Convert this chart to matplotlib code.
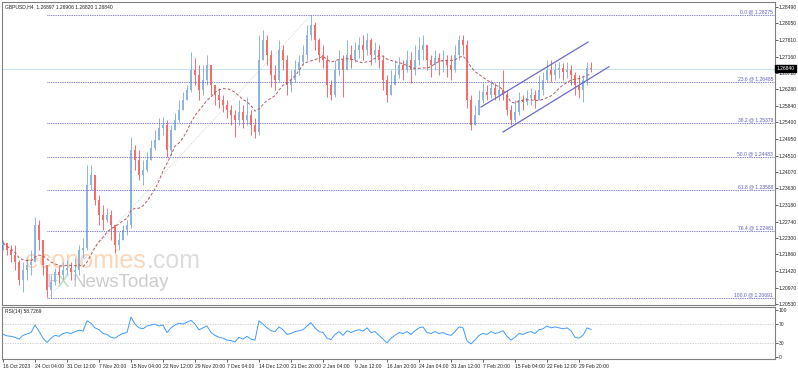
import numpy as np
import pandas as pd
import matplotlib
matplotlib.use('Agg')
import matplotlib.pyplot as plt

plt.rcParams['font.family'] = ['Liberation Sans', 'DejaVu Sans']

# ---------------- data (each drawn candle = 4 H4 bars) ----------------
bars_per_candle = 4
first_open = 1.2211
closes = [
    1.2217, 1.2198, 1.2185, 1.2166, 1.2118, 1.2144, 1.2158, 1.2166, 1.2265, 1.2225,
    1.2158, 1.2091, 1.2112, 1.2139, 1.2131, 1.2144, 1.2150, 1.2139, 1.2144, 1.2198,
    1.2203, 1.2372, 1.2399, 1.2332, 1.2292, 1.2278, 1.2292, 1.2265, 1.2211, 1.2225,
    1.2252, 1.2265, 1.2466, 1.2439, 1.2399, 1.2412, 1.2439, 1.2471, 1.2493, 1.2525,
    1.2533, 1.2466, 1.2520, 1.2546, 1.2573, 1.2600, 1.2627, 1.2680, 1.2667, 1.2627,
    1.2654, 1.2694, 1.2640, 1.2613, 1.2600, 1.2587, 1.2573, 1.2560, 1.2546, 1.2568,
    1.2546, 1.2560, 1.2533, 1.2514, 1.2707, 1.2761, 1.2721, 1.2667, 1.2654, 1.2734,
    1.2707, 1.2640, 1.2654, 1.2680, 1.2702, 1.2721, 1.2774, 1.2801, 1.2761, 1.2721,
    1.2707, 1.2640, 1.2613, 1.2680, 1.2707, 1.2680, 1.2721, 1.2707, 1.2734, 1.2747,
    1.2734, 1.2761, 1.2721, 1.2734, 1.2707, 1.2654, 1.2613, 1.2640, 1.2667, 1.2694,
    1.2680, 1.2707, 1.2680, 1.2707, 1.2734, 1.2747, 1.2707, 1.2694, 1.2713, 1.2702,
    1.2707, 1.2694, 1.2680, 1.2721, 1.2761, 1.2747, 1.2600, 1.2533, 1.2560, 1.2600,
    1.2621, 1.2613, 1.2632, 1.2613, 1.2627, 1.2613, 1.2573, 1.2546, 1.2568, 1.2600,
    1.2595, 1.2605, 1.2613, 1.2600, 1.2627, 1.2654, 1.2680, 1.2667, 1.2680, 1.2686,
    1.2675, 1.2680, 1.2667, 1.2640, 1.2627, 1.2654, 1.2686, 1.2684,
]
highs = [
    1.2225, 1.2217, 1.2211, 1.2211, 1.2171, 1.2166, 1.2177, 1.2198, 1.2286, 1.2278,
    1.2225, 1.2158, 1.2131, 1.2150, 1.2158, 1.2166, 1.2171, 1.2166, 1.2177, 1.2211,
    1.2230, 1.2426, 1.2426, 1.2372, 1.2345, 1.2319, 1.2311, 1.2305, 1.2238, 1.2246,
    1.2265, 1.2278, 1.2501, 1.2479, 1.2466, 1.2439, 1.2461, 1.2493, 1.2520, 1.2552,
    1.2554, 1.2546, 1.2533, 1.2565, 1.2600, 1.2621, 1.2640, 1.2729, 1.2713, 1.2694,
    1.2694, 1.2721, 1.2686, 1.2640, 1.2632, 1.2613, 1.2600, 1.2587, 1.2573, 1.2600,
    1.2587, 1.2608, 1.2573, 1.2552, 1.2774, 1.2788, 1.2774, 1.2734, 1.2694, 1.2761,
    1.2747, 1.2721, 1.2680, 1.2707, 1.2721, 1.2747, 1.2801, 1.2828, 1.2809, 1.2766,
    1.2747, 1.2721, 1.2654, 1.2707, 1.2734, 1.2721, 1.2761, 1.2747, 1.2755, 1.2769,
    1.2774, 1.2780, 1.2766, 1.2755, 1.2747, 1.2721, 1.2667, 1.2680, 1.2707, 1.2715,
    1.2707, 1.2734, 1.2729, 1.2747, 1.2769, 1.2774, 1.2747, 1.2721, 1.2734, 1.2726,
    1.2734, 1.2721, 1.2721, 1.2747, 1.2774, 1.2774, 1.2761, 1.2613, 1.2587, 1.2627,
    1.2646, 1.2640, 1.2654, 1.2646, 1.2648, 1.2680, 1.2627, 1.2587, 1.2600, 1.2621,
    1.2613, 1.2627, 1.2632, 1.2627, 1.2667, 1.2675, 1.2707, 1.2707, 1.2699, 1.2702,
    1.2699, 1.2702, 1.2694, 1.2675, 1.2667, 1.2667, 1.2702, 1.2702,
]
lows = [
    1.2198, 1.2185, 1.2166, 1.2144, 1.2104, 1.2085, 1.2118, 1.2131, 1.2166, 1.2198,
    1.2131, 1.2072, 1.2069, 1.2104, 1.2110, 1.2118, 1.2131, 1.2118, 1.2118, 1.2131,
    1.2177, 1.2198, 1.2359, 1.2319, 1.2265, 1.2252, 1.2273, 1.2225, 1.2190, 1.2198,
    1.2225, 1.2238, 1.2257, 1.2412, 1.2386, 1.2372, 1.2407, 1.2439, 1.2466, 1.2493,
    1.2506, 1.2447, 1.2453, 1.2520, 1.2541, 1.2579, 1.2600, 1.2621, 1.2640, 1.2600,
    1.2613, 1.2640, 1.2613, 1.2587, 1.2579, 1.2568, 1.2552, 1.2533, 1.2501, 1.2533,
    1.2525, 1.2533, 1.2506, 1.2498, 1.2506, 1.2707, 1.2694, 1.2635, 1.2627, 1.2648,
    1.2680, 1.2613, 1.2621, 1.2648, 1.2667, 1.2694, 1.2707, 1.2761, 1.2734, 1.2702,
    1.2686, 1.2608, 1.2600, 1.2608, 1.2667, 1.2608, 1.2694, 1.2686, 1.2702, 1.2713,
    1.2707, 1.2721, 1.2694, 1.2702, 1.2686, 1.2627, 1.2595, 1.2613, 1.2640, 1.2659,
    1.2654, 1.2675, 1.2646, 1.2667, 1.2694, 1.2707, 1.2680, 1.2662, 1.2680, 1.2667,
    1.2675, 1.2662, 1.2654, 1.2675, 1.2707, 1.2721, 1.2579, 1.2520, 1.2533, 1.2560,
    1.2592, 1.2600, 1.2605, 1.2600, 1.2600, 1.2600, 1.2560, 1.2533, 1.2541, 1.2560,
    1.2573, 1.2587, 1.2587, 1.2579, 1.2600, 1.2613, 1.2648, 1.2648, 1.2654, 1.2659,
    1.2654, 1.2659, 1.2640, 1.2613, 1.2605, 1.2595, 1.2640, 1.2675,
]
rsi_values = [
    48, 45, 44, 42, 38, 46, 49, 52, 68, 55,
    40, 31, 40, 46, 44, 50, 52, 50, 54, 57,
    55, 77, 72, 62, 58, 50, 48, 42, 40, 46,
    50, 52, 85, 70, 62, 60, 66, 68, 70, 66,
    68, 52, 62, 68, 72, 70, 74, 78, 70, 58,
    62, 66, 52, 46, 42, 40, 36, 35, 32, 42,
    38, 44, 38, 36, 77, 70, 62, 56, 54, 64,
    58, 48, 50, 54, 56, 58, 66, 73, 62, 54,
    52, 40, 37, 48, 54, 46, 56, 52, 56, 58,
    55, 62, 52, 54, 46, 38, 30, 40, 46, 52,
    50, 54, 48, 56, 62, 64, 52, 50, 54, 50,
    52, 48, 46, 54, 64, 62, 34, 28, 36, 46,
    50, 48, 54, 50, 52, 56, 44, 36, 42, 50,
    48, 52, 54, 50, 58, 60, 66, 62, 64, 62,
    60, 62, 56, 42, 40, 46, 62, 58.7,
]
assert len(closes) == len(highs) == len(lows) == len(rsi_values), (
    len(closes), len(highs), len(lows), len(rsi_values))

tick_labels = ['16 Oct 2023', '24 Oct 04:00', '31 Oct 12:00', '7 Nov 20:00',
               '15 Nov 04:00', '22 Nov 12:00', '29 Nov 20:00', '7 Dec 04:00',
               '14 Dec 12:00', '21 Dec 20:00', '2 Jan 04:00', '9 Jan 12:00',
               '16 Jan 20:00', '24 Jan 04:00', '31 Jan 12:00', '7 Feb 20:00',
               '15 Feb 04:00', '22 Feb 12:00', '29 Feb 20:00']
bars_per_tick = 32
price_ticks = [1.28490, 1.28050, 1.27610, 1.27160, 1.26720, 1.26280, 1.25840,
               1.25400, 1.24950, 1.24510, 1.24070, 1.23630, 1.23180, 1.22740,
               1.22300, 1.21860, 1.21420, 1.20970, 1.20530]
rsi_ticks = [0, 30, 70, 100]
rsi_levels = [30, 70]

fib_ratios = [0.0, 23.6, 38.2, 50.0, 61.8, 76.4, 100.0]
fib_low_bar, fib_low = 45, 1.20691
fib_high_bar, fib_high = 308, 1.28275

channel_bars_upper = [478, 585]
channel_upper = [1.2581, 1.2755]
channel_bars_lower = [500, 606]
channel_lower = [1.2514, 1.2689]

last_price = 1.26840
header = 'GBPUSD,H4  1.26897 1.26906 1.26820 1.26840'
rsi_label = 'RSI(14) 58.7269'
ma_period = 12

# ---------------- figure ----------------
W, H = 798, 371
fig = plt.figure(figsize=(W / 100, H / 100), dpi=100)
fig.patch.set_facecolor('white')

def fx(px):
    return px / W

def fy(py):
    return 1 - py / H

ax = fig.add_axes([fx(2), fy(305), fx(773), (305 - 2) / H])
axr = fig.add_axes([fx(2), fy(359), fx(773), (359 - 307) / H], sharex=ax)

n = len(closes)
pos = np.arange(n) * bars_per_candle
c = np.array(closes)
o = np.concatenate([[first_open], c[:-1]])
h = np.maximum.reduce([np.array(highs), o, c])
l = np.minimum.reduce([np.array(lows), o, c])
up = c >= o
col_up, col_dn = '#8db6de', '#f76b6b'
colors = np.where(up, col_up, col_dn)

# watermark (behind the candles)
wm_kw = dict(transform=fig.transFigure, va='baseline', ha='left', zorder=1.5)
ax.text(fx(25), fy(268), 'economies', fontsize=18, color='#fcd6b9', **wm_kw)
ax.text(fx(147), fy(268), '.com', fontsize=18, color='#dcdcdc', **wm_kw)
ax.text(fx(47), fy(287), 'F', fontsize=13.5, color='#d2d2d2', **wm_kw)
ax.text(fx(57), fy(287), 'X', fontsize=13.5, color='#c0e0c0', **wm_kw)
ax.text(fx(72), fy(287), 'NewsToday', fontsize=13.5, color='#cdcdcd', **wm_kw)

# current price line
ax.axhline(last_price, color='#c4e4ef', lw=0.7, zorder=1)

# fib trend line
ax.plot([fib_low_bar, fib_high_bar], [fib_low, fib_high], color='#d6d6d6',
        lw=0.6, ls=(0, (1.5, 1.5)), zorder=1)

# candles
ax.vlines(pos, l, h, colors=colors, lw=0.7, zorder=2)
body_h = np.abs(c - o)
body_h = np.where(body_h < 0.00005, 0.00005, body_h)
ax.bar(pos, body_h, bottom=np.minimum(o, c), width=2.2, color=colors,
       linewidth=0, zorder=3)

# moving average
ma = pd.Series(c).rolling(ma_period, min_periods=1).mean()
ax.plot(pos, ma, color='#b85c5c', lw=0.7, ls=(0, (3, 2)), zorder=4)

# fib levels
fib_color = '#5f5fc0'
xmax = 772
for r in fib_ratios:
    p = fib_high - r / 100 * (fib_high - fib_low)
    ax.plot([fib_low_bar - 1, xmax], [p, p], color='#6a6ac6', lw=0.75,
            ls=(0, (0.8, 0.9)), zorder=5)
    ax.text(xmax - 2, p + 0.00018, f'{r:.1f} @ {p:.5f}', ha='right',
            va='bottom', fontsize=3.6, color=fib_color, zorder=6)

# channel
ax.plot(channel_bars_upper, channel_upper, color='#6b6bd0', lw=0.9, zorder=5)
ax.plot(channel_bars_lower, channel_lower, color='#6b6bd0', lw=0.9, zorder=5)

ax.set_xlim(-1, xmax)
ax.set_ylim(1.20504, 1.28624)

# axes style
for a in (ax, axr):
    for s in a.spines.values():
        s.set_color('#808080')
        s.set_linewidth(0.8)
    a.set_facecolor('white')

ax.yaxis.tick_right()
ax.set_yticks(price_ticks)
ax.set_yticklabels([f'{t:.5f}' for t in price_ticks])
ax.tick_params(axis='y', labelsize=3.6, length=1.8, width=0.5, pad=0.8,
               colors='#222222')
ax.tick_params(axis='x', bottom=False, labelbottom=False)

# last price box
ax.text(1.002, last_price, f'{last_price:.5f}', transform=ax.get_yaxis_transform(),
        ha='left', va='center', fontsize=3.6, color='white',
        bbox=dict(boxstyle='square,pad=0.25', fc='black', ec='black'), zorder=10,
        clip_on=False)

ax.text(0.004, 0.993, header, transform=ax.transAxes, ha='left', va='top',
        fontsize=3.6, color='#222222')

# RSI panel
for lv in rsi_levels:
    axr.axhline(lv, color='#c8c8c8', lw=0.6, ls=(0, (1.5, 1.5)))
axr.plot(pos, rsi_values, color='#3f9cff', lw=0.7)
axr.set_ylim(-4.3, 106.4)
axr.yaxis.tick_right()
axr.set_yticks(rsi_ticks)
axr.set_yticklabels([str(t) for t in rsi_ticks])
axr.tick_params(axis='y', labelsize=3.6, length=1.8, width=0.5, pad=0.8,
                colors='#222222')
axr.text(0.004, 0.96, rsi_label, transform=axr.transAxes, ha='left', va='top',
         fontsize=3.6, color='#222222')

xt = np.arange(len(tick_labels)) * bars_per_tick
axr.set_xticks(xt)
axr.set_xticklabels(tick_labels, ha='left')
axr.tick_params(axis='x', labelsize=3.6, length=2, width=0.5, pad=1.5,
                colors='#222222')

fig.savefig('out.png', dpi=100, facecolor='white')
